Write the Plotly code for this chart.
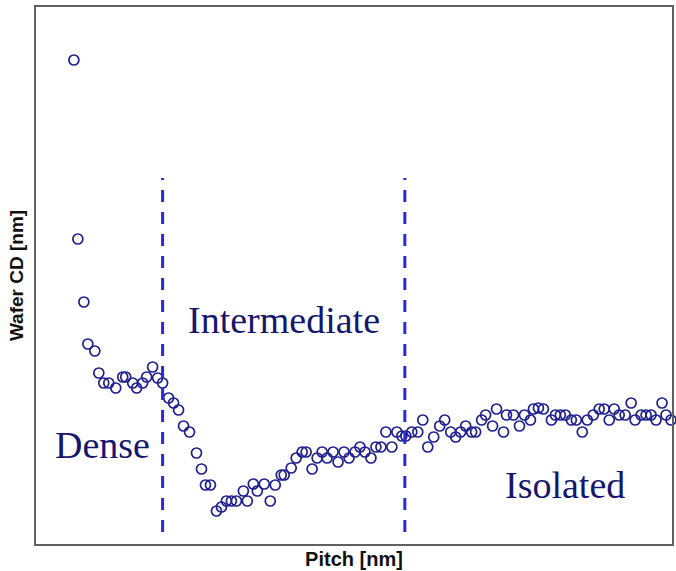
import plotly.graph_objects as go

# Pitch (arbitrary units along x) and wafer CD (arbitrary units)
pitch = [74, 78, 84, 88, 95, 99, 104, 109, 116, 123, 126, 133, 137, 143, 147, 153, 158, 163,
         169, 174, 179, 184, 190, 197, 202, 206, 211, 217, 222, 227, 232, 237, 244, 248, 254,
         258, 265, 271, 276, 282, 285, 292, 297, 303, 307, 313, 318, 323, 328, 334, 339, 345,
         350, 356, 361, 366, 372, 377, 382, 387, 393, 398, 403, 407, 413, 419, 424, 429, 435,
         441, 446, 452, 457, 462, 467, 473, 477, 483, 487, 494, 498, 505, 508, 515, 521, 526,
         532, 535, 540, 545, 553, 557, 562, 567, 573, 578, 584, 589, 595, 601, 606, 611, 616,
         621, 627, 633, 637, 643, 648, 653, 658, 664, 668, 673]
cd = [511, 332, 269, 227, 220, 198, 188, 188, 183, 194, 194, 188, 183, 188, 194, 204, 193, 188,
      173, 168, 161, 145, 139, 118, 102, 86, 86, 60, 64, 70, 70, 70, 80, 70, 87,
      80, 87, 70, 86, 96, 96, 103, 113, 119, 119, 102, 113, 119, 113, 119, 109, 119,
      113, 119, 124, 119, 113, 124, 124, 139, 124, 139, 135, 135, 139, 139, 151, 124, 134,
      145, 151, 139, 134, 139, 145, 139, 139, 151, 156, 145, 162, 139, 156, 156, 145, 156,
      151, 162, 163, 162, 151, 156, 156, 156, 151, 151, 139, 151, 156, 162, 162, 151, 162,
      156, 156, 168, 151, 156, 156, 156, 151, 168, 156, 151]

boundaries = [163, 406]
region_names = ["Dense", "Intermediate", "Isolated"]
region_x = [103, 285, 567]
region_y = [126, 251, 86]

fig = go.Figure()
fig.add_trace(go.Scatter(
    x=pitch, y=cd, mode="markers",
    marker=dict(symbol="circle-open", size=10, color="#1f1f8f", line=dict(width=1.7, color="#1f1f8f")),
    showlegend=False, hoverinfo="skip", cliponaxis=False))

for b in boundaries:
    fig.add_shape(type="line", x0=b, x1=b, y0=39, y1=393, xref="x", yref="y",
                  line=dict(color="#2a2ad8", width=3, dash="12px,10px"))

for name, x, y in zip(region_names, region_x, region_y):
    fig.add_annotation(x=x, y=y, xref="x", yref="y", text=name, showarrow=False,
                       font=dict(family="Liberation Serif", size=38, color="#16166e"))

axis_common = dict(showgrid=False, zeroline=False, showticklabels=False, ticks="",
                   showline=True, mirror=True, linecolor="#606060", linewidth=2)

fig.update_layout(
    width=676, height=571,
    margin=dict(l=36, r=2, t=7, b=27),
    paper_bgcolor="white", plot_bgcolor="white",
    xaxis=dict(range=[36, 674],
               title=dict(text="<b>Pitch [nm]</b>", standoff=7,
                          font=dict(family="Liberation Sans", size=20, color="#111111")),
               **axis_common),
    yaxis=dict(range=[27, 564],
               title=dict(text="<b>Wafer CD [nm]</b>", standoff=5,
                          font=dict(family="Liberation Sans", size=19, color="#111111")),
               **axis_common),
)

fig.write_html("out.html", config={"displayModeBar": False},
               post_script="document.body.style.margin='0';document.body.style.overflow='hidden';")
